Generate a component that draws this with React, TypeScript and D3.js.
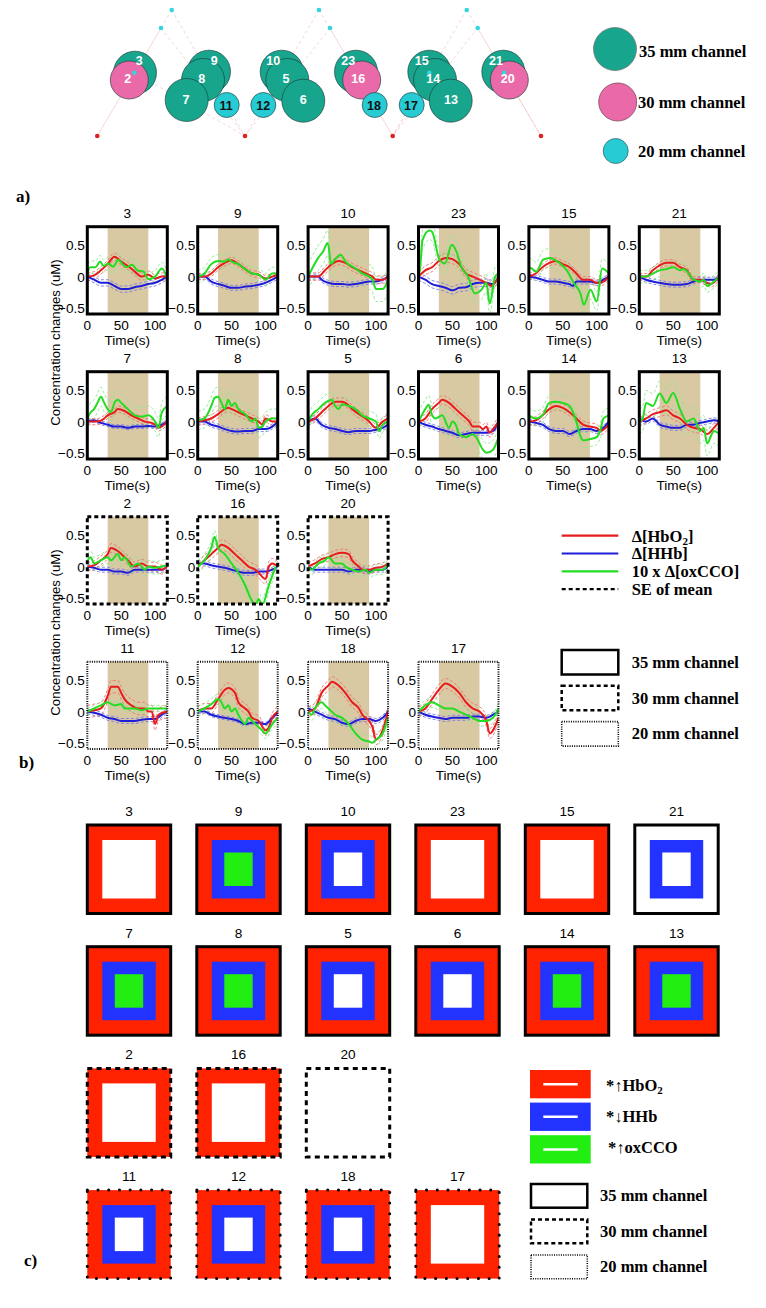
import React from 'react';
import * as d3 from 'd3';

type Pt = [number, number];

// ---------- panel a/b data: time (s), value (uM) ----------
const HBO2_3: Pt[] = [[0,0],[10,0.02],[20,0.1],[30,0.2],[40,0.32],[50,0.24],[60,0.17],[70,0.08],[80,0],[90,0.03],[100,-0.03],[110,0],[118,0]];
const HHB_3: Pt[] = [[0,0],[10,-0.05],[20,-0.1],[30,-0.1],[40,-0.15],[50,-0.2],[60,-0.2],[70,-0.17],[80,-0.15],[90,-0.12],[100,-0.1],[110,-0.05],[118,0]];
const CCO_3: Pt[] = [[0,0.02],[4,0.15],[12,0.15],[19,0.24],[24,0.17],[31,0.21],[38,0.16],[46,0.27],[51,0.21],[58,0.15],[66,0.19],[74,0.1],[83,0.08],[90,-0.04],[100,0],[110,0.13],[118,-0.03]];

const HBO2_9: Pt[] = [[0,0],[10,0],[20,0.05],[30,0.15],[40,0.22],[50,0.26],[60,0.2],[70,0.12],[80,0.05],[90,0.03],[100,-0.03],[110,0],[118,0.03]];
const HHB_9: Pt[] = [[0,0],[10,0],[20,-0.08],[30,-0.12],[40,-0.15],[50,-0.18],[60,-0.18],[70,-0.16],[80,-0.15],[90,-0.13],[100,-0.1],[110,-0.05],[118,0]];
const CCO_9: Pt[] = [[0,0],[10,0.05],[20,0.2],[30,0.25],[40,0.24],[45,0.28],[50,0.24],[60,0.2],[70,0.12],[80,0.05],[90,0.03],[100,-0.05],[110,0.05],[118,0.05]];

const HBO2_10: Pt[] = [[0,0],[15,0],[25,0.1],[35,0.2],[45,0.25],[55,0.22],[65,0.15],[75,0.1],[85,0.05],[95,0],[100,-0.05],[110,-0.05],[118,0]];
const HHB_10: Pt[] = [[0,0],[15,0],[20,-0.05],[30,-0.1],[40,-0.12],[50,-0.12],[60,-0.13],[70,-0.12],[80,-0.1],[90,-0.08],[100,-0.08],[110,-0.05],[118,0]];
const CCO_10: Pt[] = [[0,0],[6,0.13],[15,0.3],[22,0.4],[29,0.54],[34,0.2],[40,0.28],[48,0.35],[55,0.24],[70,0.13],[80,0.05],[90,0],[95,-0.05],[100,-0.2],[110,-0.2],[118,-0.05]];

const HBO2_23: Pt[] = [[0,0],[10,0.1],[20,0.15],[30,0.25],[40,0.3],[50,0.28],[60,0.2],[70,0.05],[80,0],[90,-0.05],[100,-0.1],[108,-0.15],[118,0]];
const HHB_23: Pt[] = [[0,0],[10,-0.05],[20,-0.12],[30,-0.15],[40,-0.18],[50,-0.22],[60,-0.18],[70,-0.17],[80,-0.12],[90,-0.1],[100,-0.1],[110,-0.12],[118,0]];
const CCO_23: Pt[] = [[0,0],[2,0.1],[6,0.59],[16,0.74],[20,0.72],[31,0.27],[39,0.21],[49,0.51],[56,0.4],[63,0.16],[73,0],[83,-0.27],[93,-0.21],[100,-0.1],[105,-0.43],[113,0],[118,0.05]];

const HBO2_15: Pt[] = [[0,0],[10,0.05],[20,0.15],[30,0.22],[40,0.25],[50,0.2],[60,0.15],[70,0.05],[80,-0.05],[90,-0.05],[100,-0.1],[105,-0.1],[118,0]];
const HHB_15: Pt[] = [[0,0],[10,-0.02],[20,-0.05],[30,-0.08],[40,-0.08],[50,-0.1],[60,-0.12],[65,-0.15],[70,-0.08],[80,-0.08],[90,-0.08],[100,-0.1],[110,-0.05],[118,0]];
const CCO_15: Pt[] = [[0,0.15],[4,0.13],[11,0.08],[21,0.27],[31,0.3],[46,0.21],[56,0.1],[66,-0.1],[76,-0.27],[81,-0.45],[91,-0.21],[100,-0.4],[108,0.13],[118,0.05]];

const HBO2_21: Pt[] = [[0,0],[10,0],[20,0.1],[30,0.18],[40,0.22],[50,0.22],[60,0.15],[70,0.1],[80,-0.05],[90,-0.05],[100,-0.1],[105,-0.12],[118,0]];
const HHB_21: Pt[] = [[0,0],[10,-0.05],[20,-0.08],[30,-0.1],[40,-0.12],[50,-0.13],[60,-0.13],[70,-0.12],[80,-0.08],[90,-0.05],[100,-0.05],[110,-0.05],[118,0]];
const CCO_21: Pt[] = [[0,0],[10,0],[20,0.05],[30,0.1],[40,0.12],[50,0.15],[60,0.1],[65,0.12],[75,0.02],[80,-0.05],[90,-0.08],[95,-0.05],[100,-0.15],[110,-0.08],[118,0]];

const HBO2_7: Pt[] = [[0,0],[15,0],[25,0.05],[30,0.1],[40,0.15],[45,0.2],[55,0.17],[65,0.1],[75,0.05],[85,0],[95,-0.02],[100,-0.05],[105,-0.1],[118,0]];
const HHB_7: Pt[] = [[0,0],[10,0.02],[20,-0.02],[30,-0.05],[40,-0.08],[50,-0.08],[60,-0.1],[70,-0.08],[80,-0.08],[90,-0.07],[100,-0.08],[110,-0.05],[118,0]];
const CCO_7: Pt[] = [[0,0.05],[5,0.15],[10,0.2],[15,0.3],[20,0.4],[25,0.3],[30,0.2],[35,0.15],[40,0.3],[45,0.35],[50,0.3],[60,0.2],[70,0.1],[80,0.08],[90,0.1],[100,0],[105,-0.1],[110,0.15],[118,0.25]];

const HBO2_8: Pt[] = [[0,0],[10,0.02],[20,0.05],[30,0.12],[40,0.2],[45,0.22],[50,0.2],[60,0.15],[70,0.1],[80,0.05],[90,0],[95,-0.05],[100,0.05],[110,0],[118,0]];
const HHB_8: Pt[] = [[0,0],[10,0],[20,-0.05],[30,-0.08],[40,-0.12],[50,-0.15],[60,-0.16],[70,-0.15],[80,-0.15],[90,-0.12],[100,-0.12],[110,-0.08],[118,0]];
const CCO_8: Pt[] = [[0,0.02],[10,0.05],[20,0.25],[25,0.38],[30,0.4],[35,0.3],[40,0.2],[45,0.35],[50,0.25],[55,0.3],[60,0.2],[70,0.12],[80,0],[85,0.05],[90,-0.1],[95,-0.08],[100,0],[110,0.05],[118,0.05]];

const HBO2_5: Pt[] = [[0,0],[10,0.05],[20,0.15],[30,0.25],[40,0.32],[50,0.32],[55,0.3],[65,0.2],[75,0.12],[85,0.05],[90,0],[100,-0.1],[110,0],[118,0.05]];
const HHB_5: Pt[] = [[0,0],[10,0.05],[20,-0.05],[30,-0.1],[40,-0.12],[50,-0.15],[60,-0.17],[70,-0.15],[80,-0.15],[90,-0.15],[100,-0.13],[110,-0.1],[118,-0.05]];
const CCO_5: Pt[] = [[0,0],[5,0.1],[15,0.2],[25,0.3],[35,0.35],[40,0.25],[45,0.2],[50,0.28],[60,0.25],[70,0.2],[80,0.1],[90,0.05],[100,0],[105,-0.15],[110,-0.05],[118,0]];

const HBO2_6: Pt[] = [[0,0],[10,0.05],[20,0.2],[30,0.3],[35,0.35],[45,0.3],[55,0.2],[65,0.1],[75,0],[80,-0.08],[90,-0.08],[95,-0.12],[100,-0.08],[105,-0.18],[110,-0.12],[118,0]];
const HHB_6: Pt[] = [[0,0],[10,-0.05],[20,-0.08],[30,-0.12],[40,-0.15],[50,-0.18],[60,-0.22],[70,-0.2],[80,-0.18],[90,-0.18],[100,-0.18],[110,-0.15],[118,0]];
const CCO_6: Pt[] = [[0,0],[10,0.2],[15,0.27],[20,0.1],[25,0.05],[35,0.1],[45,-0.1],[50,0],[55,-0.05],[60,-0.2],[70,-0.25],[80,-0.2],[85,-0.25],[95,-0.45],[100,-0.5],[110,-0.45],[118,-0.25]];

const HBO2_14: Pt[] = [[0,0],[10,0.02],[20,0.1],[30,0.2],[40,0.25],[50,0.22],[60,0.15],[70,0.05],[80,-0.05],[90,-0.08],[100,-0.1],[105,-0.15],[118,-0.05]];
const HHB_14: Pt[] = [[0,0],[10,-0.02],[20,-0.05],[30,-0.12],[40,-0.15],[50,-0.15],[60,-0.2],[70,-0.15],[80,-0.12],[90,-0.12],[100,-0.15],[110,-0.1],[118,0]];
const CCO_14: Pt[] = [[0,0.1],[10,0.05],[20,0.1],[30,0.3],[40,0.32],[50,0.3],[60,0.25],[70,0],[75,-0.2],[80,-0.3],[90,-0.28],[100,-0.25],[105,-0.15],[110,0.05],[118,0.1]];

const HBO2_13: Pt[] = [[0,0],[10,0.05],[20,0.12],[30,0.15],[40,0.18],[50,0.1],[60,0.05],[70,-0.05],[80,-0.1],[90,-0.12],[100,-0.2],[110,-0.1],[118,0]];
const HHB_13: Pt[] = [[0,0.05],[10,0],[20,0.05],[30,-0.05],[40,-0.08],[50,-0.1],[60,-0.1],[70,-0.05],[80,-0.05],[90,-0.02],[100,0],[110,0.02],[118,0]];
const CCO_13: Pt[] = [[0,0],[5,0.05],[10,0.3],[20,0.25],[30,0.45],[40,0.3],[50,0.46],[60,0.2],[70,0],[80,0.05],[90,-0.15],[95,-0.1],[100,-0.35],[110,-0.15],[118,-0.2]];

const HBO2_2: Pt[] = [[0,0],[10,0.02],[20,0.1],[30,0.2],[35,0.3],[45,0.25],[55,0.15],[60,0.1],[70,0],[80,0.05],[90,0],[100,0],[110,-0.05],[118,0]];
const HHB_2: Pt[] = [[0,0],[10,-0.02],[20,-0.05],[30,-0.05],[40,-0.08],[50,-0.08],[60,-0.1],[70,-0.05],[80,-0.05],[90,-0.05],[100,-0.05],[110,-0.05],[118,0]];
const CCO_2: Pt[] = [[0,0.1],[5,0.15],[10,0.05],[20,0.1],[30,0.15],[35,0.1],[45,0.2],[50,0.1],[55,0.15],[65,0],[75,0.05],[85,-0.05],[90,0],[100,-0.02],[110,0],[118,0.02]];

const HBO2_16: Pt[] = [[0,0],[10,0.1],[20,0.2],[30,0.3],[35,0.35],[45,0.3],[55,0.2],[65,0.1],[75,0],[85,-0.05],[90,-0.1],[100,-0.2],[105,0],[110,0.05],[118,0]];
const HHB_16: Pt[] = [[0,0.05],[10,0.05],[20,0.02],[30,0],[40,-0.02],[50,-0.05],[60,-0.08],[70,-0.1],[80,-0.1],[90,-0.08],[100,-0.08],[110,-0.05],[118,0]];
const CCO_16: Pt[] = [[0,0],[10,0.1],[20,0.3],[25,0.48],[30,0.3],[40,0.2],[50,0.05],[60,-0.1],[70,-0.3],[80,-0.55],[85,-0.62],[90,-0.52],[95,-0.62],[105,-0.3],[115,0]];

const HBO2_20: Pt[] = [[0,0],[10,0.05],[20,0.12],[30,0.15],[40,0.2],[50,0.22],[60,0.2],[65,0.1],[75,0],[80,-0.05],[90,-0.05],[100,-0.02],[110,0],[118,0.05]];
const HHB_20: Pt[] = [[0,0],[10,-0.05],[20,-0.05],[30,-0.05],[40,-0.05],[50,-0.05],[60,-0.08],[70,-0.05],[80,-0.05],[90,-0.08],[100,-0.05],[110,-0.05],[118,0]];
const CCO_20: Pt[] = [[0,0],[5,-0.05],[15,0.05],[25,0.1],[30,0.15],[40,0.05],[50,0.05],[55,0],[65,-0.05],[75,-0.08],[85,-0.05],[90,-0.1],[100,-0.05],[110,-0.05],[118,0.05]];

const HBO2_11: Pt[] = [[0,0],[10,0.02],[20,0.05],[30,0.25],[35,0.4],[45,0.4],[50,0.3],[55,0.2],[65,0.1],[75,0.05],[85,0.05],[90,0],[95,0],[100,-0.2],[105,-0.05],[118,0]];
const HHB_11: Pt[] = [[0,0],[10,-0.02],[20,-0.05],[30,-0.1],[40,-0.12],[50,-0.15],[60,-0.15],[70,-0.15],[80,-0.13],[90,-0.12],[100,-0.12],[110,-0.05],[118,0]];
const CCO_11: Pt[] = [[0,0],[10,0.05],[20,0.1],[30,0.15],[40,0.1],[50,0.12],[55,0.05],[60,0.05],[70,0.05],[80,0.02],[90,0.05],[100,0.05],[110,0.05],[118,0.05]];

const HBO2_12: Pt[] = [[0,0],[10,0.05],[20,0.05],[30,0.2],[40,0.35],[45,0.38],[55,0.3],[60,0.15],[70,0.05],[75,0],[80,-0.1],[90,-0.15],[100,-0.3],[105,-0.25],[110,-0.1],[118,0]];
const HHB_12: Pt[] = [[0,0],[10,0],[20,-0.05],[30,-0.08],[40,-0.1],[50,-0.12],[60,-0.15],[70,-0.2],[80,-0.18],[90,-0.18],[100,-0.2],[110,-0.1],[118,-0.02]];
const CCO_12: Pt[] = [[0,0],[10,0.05],[20,0.12],[30,0.2],[35,0.15],[40,0.05],[45,0.1],[50,0],[55,0.05],[60,-0.05],[70,-0.2],[75,-0.1],[80,-0.15],[85,-0.2],[90,-0.25],[95,-0.3],[100,-0.35],[110,-0.2],[118,-0.1]];

const HBO2_18: Pt[] = [[0,0],[10,0.05],[20,0.3],[30,0.42],[35,0.48],[45,0.42],[55,0.3],[65,0.15],[75,0.05],[80,-0.05],[90,-0.15],[95,-0.25],[100,-0.45],[110,-0.3],[118,0]];
const HHB_18: Pt[] = [[0,0.05],[10,0],[20,-0.05],[30,-0.1],[40,-0.12],[50,-0.18],[60,-0.2],[70,-0.15],[80,-0.12],[90,-0.12],[100,-0.15],[110,-0.1],[118,0]];
const CCO_18: Pt[] = [[0,0],[5,-0.05],[10,0.05],[20,0.15],[25,0.1],[30,0.05],[40,-0.05],[50,-0.1],[60,-0.2],[70,-0.35],[80,-0.45],[90,-0.48],[95,-0.5],[100,-0.45],[110,-0.35],[118,-0.1]];

const HBO2_17: Pt[] = [[0,0],[10,0.05],[20,0.2],[30,0.35],[40,0.45],[50,0.4],[60,0.3],[70,0.15],[80,0.05],[90,0],[100,-0.15],[105,-0.35],[118,-0.1]];
const HHB_17: Pt[] = [[0,0],[10,-0.05],[20,-0.08],[30,-0.1],[40,-0.12],[50,-0.1],[60,-0.1],[70,-0.1],[80,-0.08],[90,-0.08],[100,-0.1],[110,-0.05],[118,0]];
const CCO_17: Pt[] = [[0,0],[10,0.1],[20,0.15],[30,0.1],[40,0.05],[50,0.05],[60,0],[70,-0.05],[80,-0.1],[90,-0.15],[100,-0.15],[110,-0.1],[118,0.05]];

// standard error of mean per channel: [HbO2, HHb, oxCCO]
const SE_3 = [0.06, 0.05, 0.1];
const SE_9 = [0.05, 0.04, 0.1];
const SE_10 = [0.06, 0.04, 0.2];
const SE_23 = [0.07, 0.06, 0.15];
const SE_15 = [0.05, 0.04, 0.15];
const SE_21 = [0.05, 0.04, 0.1];
const SE_7 = [0.05, 0.03, 0.15];
const SE_8 = [0.06, 0.04, 0.15];
const SE_5 = [0.06, 0.04, 0.12];
const SE_6 = [0.07, 0.04, 0.15];
const SE_14 = [0.06, 0.04, 0.12];
const SE_13 = [0.07, 0.04, 0.2];
const SE_2 = [0.07, 0.04, 0.1];
const SE_16 = [0.08, 0.04, 0.1];
const SE_20 = [0.06, 0.04, 0.08];
const SE_11 = [0.1, 0.04, 0.05];
const SE_12 = [0.08, 0.03, 0.08];
const SE_18 = [0.08, 0.04, 0.1];
const SE_17 = [0.08, 0.04, 0.08];

const ROWS_AB = [[3, 9, 10, 23, 15, 21], [7, 8, 5, 6, 14, 13], [2, 16, 20], [11, 12, 18, 17]];
const ROW_KIND = ['35', '35', '30', '20'];
const T_DOMAIN = [0, 118];
const Y_DOMAIN = [-0.6, 0.8];
const STIM = [30, 90];
const X_TICKS = [0, 50, 100];
const Y_TICKS = [-0.5, 0, 0.5];

// panel c: channels with significant responses
const SIG_HBO2 = [3, 9, 10, 23, 15, 7, 8, 5, 6, 14, 13, 2, 16, 11, 12, 18, 17];
const SIG_HHB = [9, 10, 21, 7, 8, 5, 6, 14, 13, 11, 12, 18];
const SIG_CCO = [9, 7, 8, 14, 13];

// top diagram: channel ids, type
const MAP_IDS = [3, 2, 9, 8, 7, 11, 10, 5, 6, 12, 23, 16, 18, 15, 14, 13, 17, 21, 20];
const MAP_KIND = ['35', '30', '35', '35', '35', '20', '35', '35', '35', '20', '35', '30', '20', '35', '35', '35', '20', '35', '30'];

const SERIES: Record<number, { hbo2: Pt[]; hhb: Pt[]; cco: Pt[]; se: number[] }> = {
  3: { hbo2: HBO2_3, hhb: HHB_3, cco: CCO_3, se: SE_3 },
  9: { hbo2: HBO2_9, hhb: HHB_9, cco: CCO_9, se: SE_9 },
  10: { hbo2: HBO2_10, hhb: HHB_10, cco: CCO_10, se: SE_10 },
  23: { hbo2: HBO2_23, hhb: HHB_23, cco: CCO_23, se: SE_23 },
  15: { hbo2: HBO2_15, hhb: HHB_15, cco: CCO_15, se: SE_15 },
  21: { hbo2: HBO2_21, hhb: HHB_21, cco: CCO_21, se: SE_21 },
  7: { hbo2: HBO2_7, hhb: HHB_7, cco: CCO_7, se: SE_7 },
  8: { hbo2: HBO2_8, hhb: HHB_8, cco: CCO_8, se: SE_8 },
  5: { hbo2: HBO2_5, hhb: HHB_5, cco: CCO_5, se: SE_5 },
  6: { hbo2: HBO2_6, hhb: HHB_6, cco: CCO_6, se: SE_6 },
  14: { hbo2: HBO2_14, hhb: HHB_14, cco: CCO_14, se: SE_14 },
  13: { hbo2: HBO2_13, hhb: HHB_13, cco: CCO_13, se: SE_13 },
  2: { hbo2: HBO2_2, hhb: HHB_2, cco: CCO_2, se: SE_2 },
  16: { hbo2: HBO2_16, hhb: HHB_16, cco: CCO_16, se: SE_16 },
  20: { hbo2: HBO2_20, hhb: HHB_20, cco: CCO_20, se: SE_20 },
  11: { hbo2: HBO2_11, hhb: HHB_11, cco: CCO_11, se: SE_11 },
  12: { hbo2: HBO2_12, hhb: HHB_12, cco: CCO_12, se: SE_12 },
  18: { hbo2: HBO2_18, hhb: HHB_18, cco: CCO_18, se: SE_18 },
  17: { hbo2: HBO2_17, hhb: HHB_17, cco: CCO_17, se: SE_17 },
};

// ---------- layout ----------
const W = 766, H = 1308;
const SANS = 'Liberation Sans, Arial, Helvetica, sans-serif';
const SERIF = 'Liberation Serif, Times New Roman, serif';
const PW = 80, PH = 87.3;
const PX0 = 87.3, PDX = 110.4, PY0 = 226.7, PDY = 145;
const CX0 = 87.3, CDX = 109.5, CY0 = 825, CDY = 121.7, CW = 83.4, CH = 88.5;
const TICK_FS = 13.6;

const RED = '#e81c1c', BLUE = '#1e1ed8', GREEN = '#22dd22';
const RED_SE = '#f07070', BLUE_SE = '#7b7bea', GREEN_SE = '#8fe88f';
const C_RED = '#ff2200', C_BLUE = '#2233ff', C_GREEN = '#22ee11';
const TEAL = '#17a68d', PINK = '#ea6aa9', CYAN = '#27cbd4';

const frameStyle = (kind: string, thin = false) => {
  if (kind === '35') return { strokeWidth: thin ? 2.5 : 3, strokeDasharray: undefined };
  if (kind === '30') return { strokeWidth: thin ? 2.5 : 3, strokeDasharray: '4 3' };
  return { strokeWidth: thin ? 1.6 : 2, strokeDasharray: '1 1.3' };
};

const fmt = d3.format('~g');

function Plot({ ch, x0, y0, kind }: { ch: number; x0: number; y0: number; kind: string }) {
  const s = SERIES[ch];
  const x = d3.scaleLinear().domain(T_DOMAIN).range([0, PW]);
  const y = d3.scaleLinear().domain(Y_DOMAIN).range([PH, 0]);
  const line = d3.line<Pt>().x(d => x(d[0])).y(d => y(d[1])).curve(d3.curveMonotoneX);
  const shift = (arr: Pt[], k: number): Pt[] => arr.map(([t, v]) => [t, v + k]);
  const clipId = `clip-${ch}`;
  const fs = frameStyle(kind);
  const list: [Pt[], string, string, number][] = [
    [s.hhb, BLUE, BLUE_SE, s.se[1]],
    [s.hbo2, RED, RED_SE, s.se[0]],
    [s.cco, GREEN, GREEN_SE, s.se[2]],
  ];
  return (
    <g transform={`translate(${x0},${y0})`}>
      <defs>
        <clipPath id={clipId}><rect x={0} y={0} width={PW} height={PH} /></clipPath>
      </defs>
      <text x={PW / 2} y={-9} textAnchor="middle" fontFamily={SANS} fontSize={TICK_FS}>{ch}</text>
      <rect x={x(STIM[0])} y={0} width={x(STIM[1]) - x(STIM[0])} height={PH} fill="#d9c9a2" />
      <g clipPath={`url(#${clipId})`}>
        {list.map(([d, , c2, se], i) => (
          <g key={'se' + i}>
            <path d={line(shift(d, se)) || ''} fill="none" stroke={c2} strokeWidth={0.9} strokeDasharray="3 2" />
            <path d={line(shift(d, -se)) || ''} fill="none" stroke={c2} strokeWidth={0.9} strokeDasharray="3 2" />
          </g>
        ))}
        {list.map(([d, c], i) => (
          <path key={'m' + i} d={line(d) || ''} fill="none" stroke={c} strokeWidth={2} />
        ))}
      </g>
      <rect x={0} y={0} width={PW} height={PH} fill="none" stroke="#000" strokeWidth={fs.strokeWidth} strokeDasharray={fs.strokeDasharray} />
      {Y_TICKS.map(t => (
        <text key={'y' + t} x={-2.5} y={y(t) + 5} textAnchor="end" fontFamily={SANS} fontSize={TICK_FS}>{fmt(t)}</text>
      ))}
      {X_TICKS.map(t => (
        <text key={'x' + t} x={x(t)} y={PH + 16} textAnchor="middle" fontFamily={SANS} fontSize={TICK_FS}>{t}</text>
      ))}
      <text x={PW / 2} y={PH + 31} textAnchor="middle" fontFamily={SANS} fontSize={TICK_FS}>Time(s)</text>
    </g>
  );
}

function SigSquare({ ch, x0, y0, kind }: { ch: number; x0: number; y0: number; kind: string }) {
  const r = SIG_HBO2.includes(ch), b = SIG_HHB.includes(ch), g = SIG_CCO.includes(ch);
  let stroke: any = { strokeWidth: 3 };
  if (kind === '30') stroke = { strokeWidth: 3, strokeDasharray: '5 4.3' };
  if (kind === '20') stroke = { strokeWidth: 3, strokeDasharray: '0.1 10.6', strokeLinecap: 'round' };
  const i1 = 15, i2 = 27.5;
  return (
    <g transform={`translate(${x0},${y0})`}>
      <text x={CW / 2} y={-9} textAnchor="middle" fontFamily={SANS} fontSize={TICK_FS}>{ch}</text>
      <rect x={0} y={0} width={CW} height={CH} fill={r ? C_RED : '#fff'} />
      <rect x={i1} y={i1} width={CW - 2 * i1} height={CH - 2 * i1} fill={b ? C_BLUE : '#fff'} />
      <rect x={i2} y={i2} width={CW - 2 * i2} height={CH - 2 * i2} fill={g ? C_GREEN : '#fff'} />
      <rect x={0} y={0} width={CW} height={CH} fill="none" stroke="#000" {...stroke} />
    </g>
  );
}

function BoxLegend({ x, y0, w, h, gap, tx }: { x: number; y0: number; w: number; h: number; gap: number; tx: number }) {
  const items = [['35', '35 mm channel'], ['30', '30 mm channel'], ['20', '20 mm channel']];
  return (
    <g>
      {items.map(([k, lab], i) => {
        const fs = frameStyle(k, true);
        const y = y0 + i * gap;
        return (
          <g key={k}>
            <rect x={x} y={y} width={w} height={h} fill="none" stroke="#000" strokeWidth={fs.strokeWidth} strokeDasharray={fs.strokeDasharray} />
            <text x={tx} y={y + h / 2 + 5.5} fontFamily={SERIF} fontWeight="bold" fontSize={16.5}>{lab}</text>
          </g>
        );
      })}
    </g>
  );
}

// circle layout for the probe map
const MAP_POS: Record<number, [number, number, number, number]> = {
  // cx, cy, labelX, labelY
  3: [135, 72.7, 139.3, 61], 2: [129.3, 80, 127.7, 79],
  9: [209, 71.7, 214.3, 61], 8: [203, 80, 201.7, 79], 7: [186.7, 100, 186, 100], 11: [226.7, 105, 226, 106],
  10: [281.7, 71.7, 273.3, 61], 5: [287.3, 80, 286, 79], 6: [303.3, 100.7, 303.3, 100], 12: [263.3, 105, 263.3, 106],
  23: [356, 71.7, 348.3, 61], 16: [361.7, 80, 358.3, 79], 18: [374.7, 105, 374, 106],
  15: [429.3, 71.7, 421.7, 61], 14: [435, 80, 433.3, 79], 13: [450.7, 100.7, 451, 100], 17: [411.7, 105, 411, 106],
  21: [503.3, 71.7, 496, 61], 20: [509.3, 80, 507.7, 79],
};
const RADIUS: Record<string, number> = { '35': 21.5, '30': 19, '20': 12.5 };
const FILL: Record<string, string> = { '35': TEAL, '30': PINK, '20': CYAN };
const SRC_TOP: Pt[] = [[171.7, 10], [319, 10], [466.7, 10]];
const SRC_LOW: Pt[] = [[161, 28], [330, 28], [477.7, 28]];
const SRC_IN: Pt[] = [[134.3, 72.7], [429.3, 72.7], [504, 72.7]];
const DET: Pt[] = [[97.3, 136], [245, 136], [392.7, 136], [541, 136]];

function ProbeMap() {
  const lines: [Pt, Pt][] = [];
  [0, 1, 2].forEach(k => {
    [SRC_TOP[k], SRC_LOW[k]].forEach(s => { lines.push([s, DET[k]]); lines.push([s, DET[k + 1]]); });
  });
  lines.push([SRC_IN[0], DET[1]]);
  lines.push([SRC_IN[1], DET[2]]);
  lines.push([SRC_IN[2], DET[3]]);
  return (
    <g>
      {lines.map(([a, b], i) => (
        <line key={i} x1={a[0]} y1={a[1]} x2={b[0]} y2={b[1]} stroke="#f4c8c8" strokeWidth={0.8} strokeDasharray="3 3" />
      ))}
      {SRC_TOP.concat(SRC_LOW).map((p, i) => <circle key={'s' + i} cx={p[0]} cy={p[1]} r={2.3} fill="#33d6e0" />)}
      {DET.map((p, i) => <circle key={'d' + i} cx={p[0]} cy={p[1]} r={2.3} fill="#e02020" />)}
      {MAP_IDS.map((id, i) => {
        const k = MAP_KIND[i];
        const [cx, cy] = MAP_POS[id];
        return <circle key={'c' + id} cx={cx} cy={cy} r={RADIUS[k]} fill={FILL[k]} stroke="#1d3b35" strokeOpacity={0.8} strokeWidth={0.8} />;
      })}
      {SRC_IN.map((p, i) => <circle key={'si' + i} cx={p[0]} cy={p[1]} r={2.3} fill="#33d6e0" />)}
      {MAP_IDS.map((id, i) => {
        const k = MAP_KIND[i];
        const [, , lx, ly] = MAP_POS[id];
        return (
          <text key={'t' + id} x={lx} y={ly + 4.3} textAnchor="middle" fontFamily={SANS} fontWeight="bold" fontSize={12.5} fill={k === '20' ? '#111' : '#fff'}>{id}</text>
        );
      })}
      {/* legend */}
      <circle cx={615} cy={49} r={21.5} fill={TEAL} stroke="#777" strokeWidth={0.8} />
      <circle cx={617.7} cy={102} r={19} fill={PINK} stroke="#7a4a5a" strokeWidth={0.8} />
      <circle cx={615.7} cy={151} r={12.5} fill={CYAN} stroke="#3a6a70" strokeWidth={0.8} />
      <text x={639} y={57} fontFamily={SERIF} fontWeight="bold" fontSize={16.5}>35 mm channel</text>
      <text x={638} y={108} fontFamily={SERIF} fontWeight="bold" fontSize={16.5}>30 mm channel</text>
      <text x={638} y={157} fontFamily={SERIF} fontWeight="bold" fontSize={16.5}>20 mm channel</text>
    </g>
  );
}

export default function App() {
  const lineLegend: [string, string, string | undefined, React.ReactNode][] = [
    [RED, 'hbo2', undefined, <>Δ[HbO<tspan fontSize={11} dy={3}>2</tspan><tspan dy={-3}>]</tspan></>],
    [BLUE, 'hhb', undefined, <>Δ[HHb]</>],
    [GREEN, 'cco', undefined, <>10 x Δ[oxCCO]</>],
    ['#000', 'se', '4 3', <>SE of mean</>],
  ];
  const sigLegend: [string, React.ReactNode][] = [
    [C_RED, <>*↑HbO<tspan fontSize={11} dy={3}>2</tspan></>],
    [C_BLUE, <>*↓HHb</>],
    [C_GREEN, <>*↑oxCCO</>],
  ];
  return (
    <svg width={W} height={H} viewBox={`0 0 ${W} ${H}`} style={{ position: 'absolute', left: 0, top: 0, background: '#fff' }}>
      <rect x={0} y={0} width={W} height={H} fill="#fff" />
      <ProbeMap />

      {/* panel a / b */}
      <text x={16} y={202} fontFamily={SERIF} fontWeight="bold" fontSize={17}>a)</text>
      <text x={19} y={768} fontFamily={SERIF} fontWeight="bold" fontSize={17}>b)</text>
      <text transform="translate(60,342.5) rotate(-90)" textAnchor="middle" fontFamily={SANS} fontSize={13.2}>Concentration changes (uM)</text>
      <text transform="translate(60,632.5) rotate(-90)" textAnchor="middle" fontFamily={SANS} fontSize={13.2}>Concentration changes (uM)</text>
      {ROWS_AB.map((row, r) => row.map((ch, c) => (
        <Plot key={ch} ch={ch} x0={PX0 + c * PDX} y0={PY0 + r * PDY} kind={ROW_KIND[r]} />
      )))}
      {lineLegend.map(([col, k, dash, lab], i) => (
        <g key={k}>
          <line x1={561.7} x2={618.3} y1={535.7 + i * 17.8} y2={535.7 + i * 17.8} stroke={col} strokeWidth={2.2} strokeDasharray={dash} />
          <text x={631.7} y={541.5 + i * 17.8} fontFamily={SERIF} fontWeight="bold" fontSize={16.5}>{lab}</text>
        </g>
      ))}
      <BoxLegend x={561.7} y0={650} w={56.6} h={24.5} gap={35.8} tx={631.7} />

      {/* panel c */}
      <text x={24} y={1266} fontFamily={SERIF} fontWeight="bold" fontSize={17}>c)</text>
      {ROWS_AB.map((row, r) => row.map((ch, c) => (
        <SigSquare key={'c' + ch} ch={ch} x0={CX0 + c * CDX} y0={CY0 + r * CDY} kind={ROW_KIND[r]} />
      )))}
      {sigLegend.map(([col, lab], i) => (
        <g key={i}>
          <rect x={530} y={1070 + i * 32.6} width={60.7} height={28.3} fill={col} />
          <line x1={543.3} x2={577.7} y1={1084.2 + i * 32.6} y2={1084.2 + i * 32.6} stroke="#fff" strokeWidth={2.5} />
          <text x={606 + (i === 2 ? 2 : 0)} y={1090.7 + i * 31} fontFamily={SERIF} fontWeight="bold" fontSize={16.5}>{lab}</text>
        </g>
      ))}
      <BoxLegend x={531} y0={1184} w={56.3} h={23.7} gap={35.5} tx={600} />
    </svg>
  );
}
